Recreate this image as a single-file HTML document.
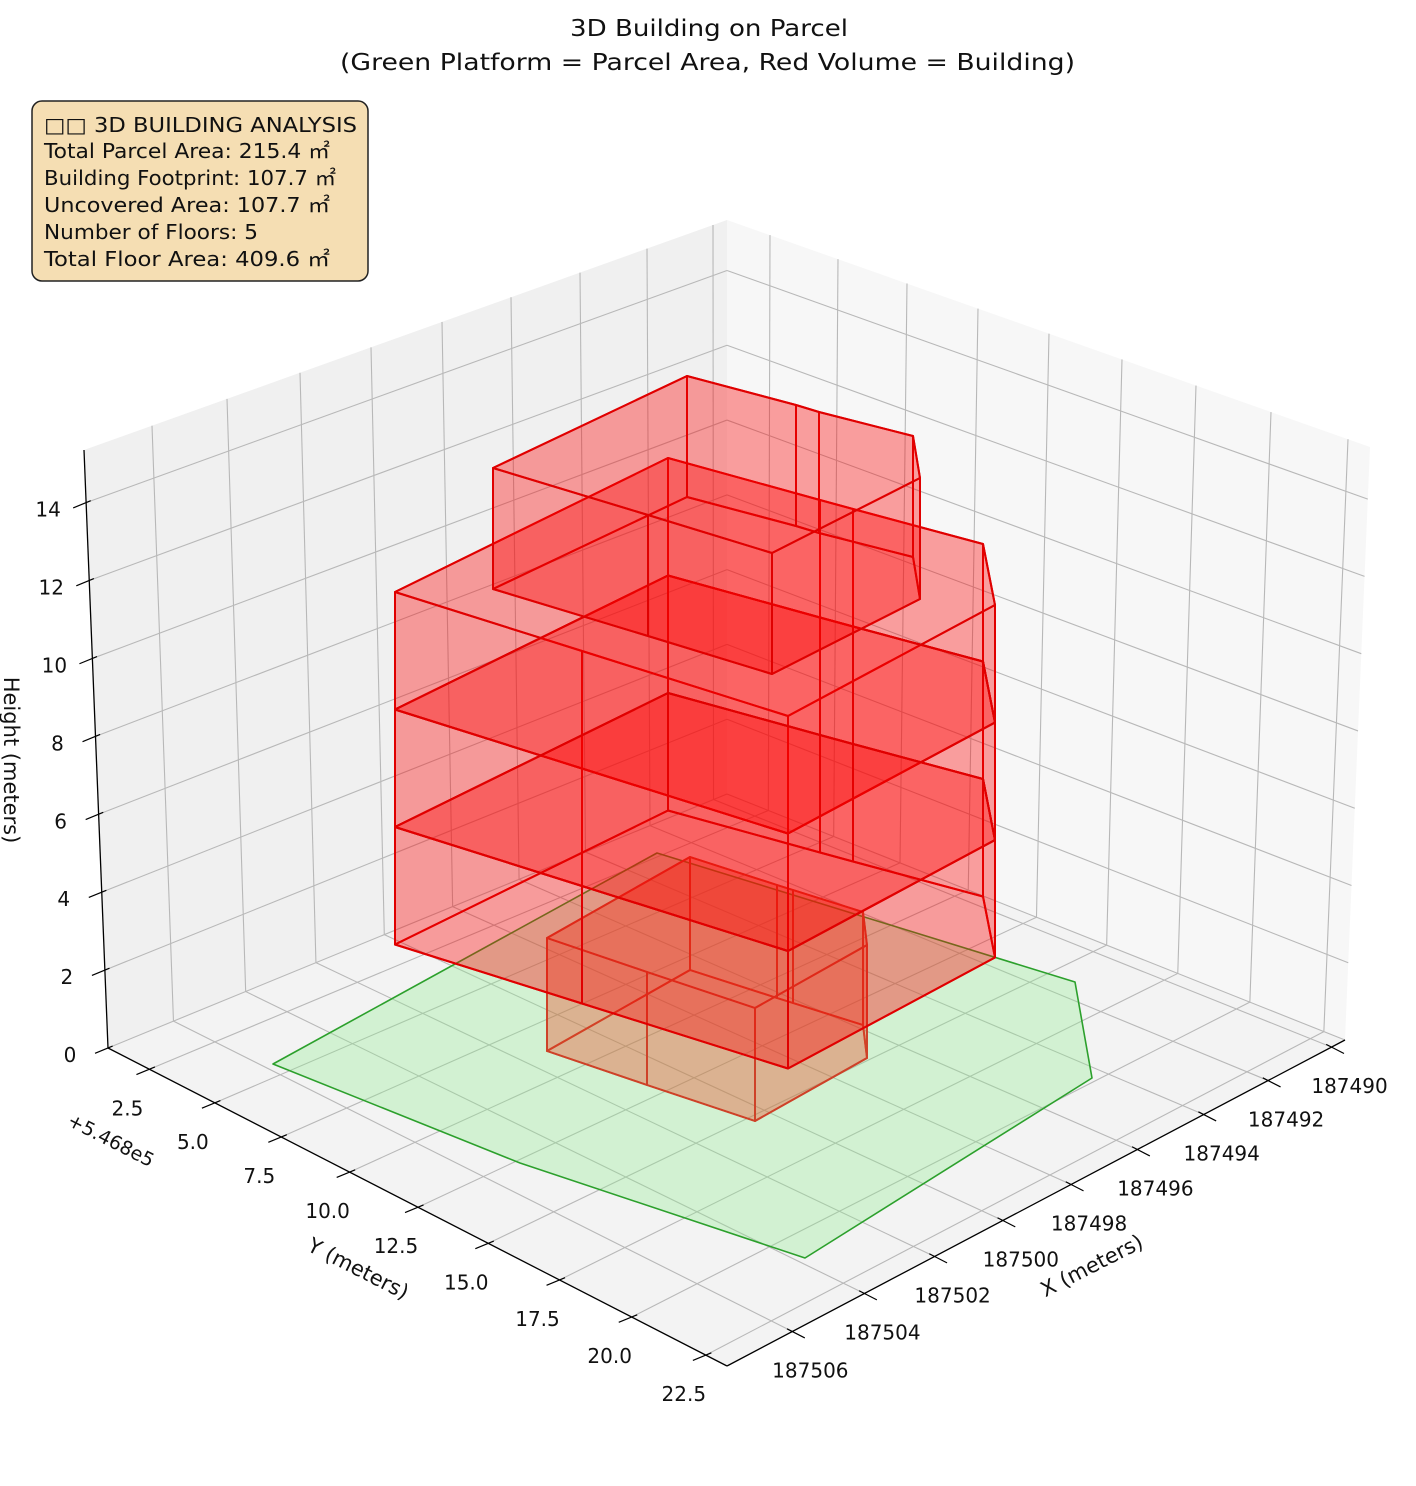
<!DOCTYPE html>
<html><head><meta charset="utf-8">
<style>
html,body{margin:0;padding:0;background:#fff;}
svg{display:block;}
text{font-family:"DejaVu Sans","Noto Sans CJK JP",sans-serif;fill:#111;}
</style></head>
<body>
<svg id="s" xmlns="http://www.w3.org/2000/svg" width="1416" height="1486" viewBox="0 0 1416 1486">
<text x="570" y="36" font-size="23" textLength="278" lengthAdjust="spacingAndGlyphs">3D Building on Parcel</text>
<text x="340" y="70" font-size="23" textLength="735" lengthAdjust="spacingAndGlyphs">(Green Platform = Parcel Area, Red Volume = Building)</text>
<g id="g"></g>
<rect x="32" y="101" width="336" height="180" rx="10" ry="10" fill="#f5deb3" stroke="#222" stroke-width="1.5"/>
<text x="44" y="132" font-size="20" textLength="313" lengthAdjust="spacingAndGlyphs">□□ 3D BUILDING ANALYSIS</text>
<text x="44" y="158" font-size="20" textLength="286" lengthAdjust="spacingAndGlyphs">Total Parcel Area: 215.4 ㎡</text>
<text x="44" y="185" font-size="20" textLength="292" lengthAdjust="spacingAndGlyphs">Building Footprint: 107.7 ㎡</text>
<text x="44" y="212" font-size="20" textLength="286" lengthAdjust="spacingAndGlyphs">Uncovered Area: 107.7 ㎡</text>
<text x="44" y="239" font-size="20" textLength="214" lengthAdjust="spacingAndGlyphs">Number of Floors: 5</text>
<text x="44" y="266" font-size="20" textLength="286" lengthAdjust="spacingAndGlyphs">Total Floor Area: 409.6 ㎡</text>
<text font-size="21" text-anchor="middle" transform="translate(4,760) rotate(90)">Height (meters)</text>
<text font-size="21" text-anchor="middle" transform="translate(355,1275) rotate(27)">Y (meters)</text>
<text font-size="21" text-anchor="middle" transform="translate(1095,1272) rotate(-27)">X (meters)</text>
<text font-size="19" text-anchor="middle" transform="translate(108,1146) rotate(27)">+5.468e5</text>
</svg>
<script>
(function(){
var NS="http://www.w3.org/2000/svg";
var g=document.getElementById('g');
function el(n,a){var e=document.createElementNS(NS,n);for(var k in a)e.setAttribute(k,a[k]);g.appendChild(e);return e;}
function P(a){return a.map(function(p){return p[0].toFixed(1)+','+p[1].toFixed(1);}).join(' ');}
function poly(pts,fill,stroke,sw){el('polygon',{points:P(pts),fill:fill,stroke:stroke||'none','stroke-width':sw||0,'stroke-linejoin':'round'});}
function line(a,b,c,w){el('line',{x1:a[0],y1:a[1],x2:b[0],y2:b[1],stroke:c,'stroke-width':w,'stroke-linecap':'butt'});}
function lerp(p,q,t){return [p[0]+(q[0]-p[0])*t,p[1]+(q[1]-p[1])*t];}
function txt(p,s){var e=el('text',{x:p[0],y:p[1],'font-size':20,'text-anchor':'middle'});e.textContent=s;}

var Lbl=[108,1048],Ltl=[84,450],Lbr=[727,794],Ltr=[727,220];
var Rbl=Lbr,Rtl=Ltr,Rbr=[1345,1040],Rtr=[1370,447];
var F=[727,1366];
poly([Lbl,Lbr,Rbr,F],'#f3f3f3');
poly([Lbl,Ltl,Ltr,Lbr],'#f0f0f0');
poly([Rbl,Rtl,Rtr,Rbr],'#f7f7f7');
var gc='#b8b8b8',gw=1.1;
var xs=[152,227,300,371,442,511,580,647,713],xl=['187506','187504','187502','187500','187498','187496','187494','187492','187490'];
var ys=[770,838,907,978,1049,1122,1196,1271,1348],yl=['2.5','5.0','7.5','10.0','12.5','15.0','17.5','20.0','22.5'];
var i,f,h;
for(i=0;i<xs.length;i++){f=(xs[i]-84)/643;
 line(lerp(Lbl,Lbr,f),lerp(Ltl,Ltr,f),gc,gw);
 line(lerp(Lbl,Lbr,f),lerp(F,Rbr,f),gc,gw);}
for(i=0;i<ys.length;i++){f=(ys[i]-727)/643;
 line(lerp(Rbl,Rbr,f),lerp(Rtl,Rtr,f),gc,gw);
 line(lerp(Rbl,Rbr,f),lerp(Lbl,F,f),gc,gw);}
for(i=0;i<=7;i++){h=i*2/15.35;
 line(lerp(Lbl,Ltl,h),lerp(Lbr,Ltr,h),gc,gw);
 line(lerp(Rbl,Rtl,h),lerp(Rbr,Rtr,h),gc,gw);}

poly([[273,1064],[657,853],[1075,982],[1092,1078],[805,1258],[520,1163]],'rgba(144,238,144,0.33)','#2ca02c',1.6);

function sh(pts,dy){return pts.map(function(p){return [p[0],p[1]+dy];});}
function prism(top,hh,n,fill,stroke,sw){
 for(var k=0;k<n;k++){
  var T=sh(top,k*hh),B=sh(top,(k+1)*hh);
  poly(B,fill,stroke,sw);
  for(var j=0;j<top.length;j++){var a=j,b=(j+1)%top.length;
   poly([T[a],T[b],B[b],B[a]],fill,stroke,sw);}
  poly(T,fill,stroke,sw);
 }
}
var brown=[[547,938],[690,857],[777,885],[793,890],[863,912],[867,945],[755,1008],[647,972]];
prism(brown,113,1,'rgba(235,70,30,0.2)','rgba(205,65,40,0.95)',1.9);
var big=[[395,592],[668,458],[820,500],[853,509],[983,544],[995,605],[788,716],[582,651]];
prism(big,117.5,3,'rgba(255,0,0,0.2)','#e00000',2);
var top=[[493,468],[687,376],[796,405],[819,412],[913,436],[920,478],[772,553],[648,515]];
prism(top,121,1,'rgba(255,0,0,0.2)','#e00000',2);

line(Ltl,Lbl,'#000',1.3);
line(Lbl,F,'#000',1.3);
line(F,Rbr,'#000',1.3);
var dz=[-0.925,0.38];
for(i=0;i<=7;i++){h=i*2/15.35;var p=lerp(Lbl,Ltl,h);
 line([p[0]+dz[0]*14,p[1]+dz[1]*14],[p[0]-dz[0]*5,p[1]-dz[1]*5],'#000',1.2);
 txt([p[0]-38,p[1]+14],String(i*2));}
for(i=0;i<ys.length;i++){f=(ys[i]-727)/643;var q=lerp(Lbl,F,f);
 line([q[0]+dz[0]*14,q[1]+dz[1]*14],[q[0]-dz[0]*6,q[1]-dz[1]*6],'#000',1.2);
 txt([q[0]-22,q[1]+46],yl[i]);}
var dx=[0.889,0.457];
for(i=0;i<xs.length;i++){f=(xs[i]-84)/643;var r=lerp(F,Rbr,f);
 line([r[0]+dx[0]*14,r[1]+dx[1]*14],[r[0]-dx[0]*6,r[1]-dx[1]*6],'#000',1.2);
 txt([r[0]+18,r[1]+46],xl[i]);}
})();
</script>
</body></html>
